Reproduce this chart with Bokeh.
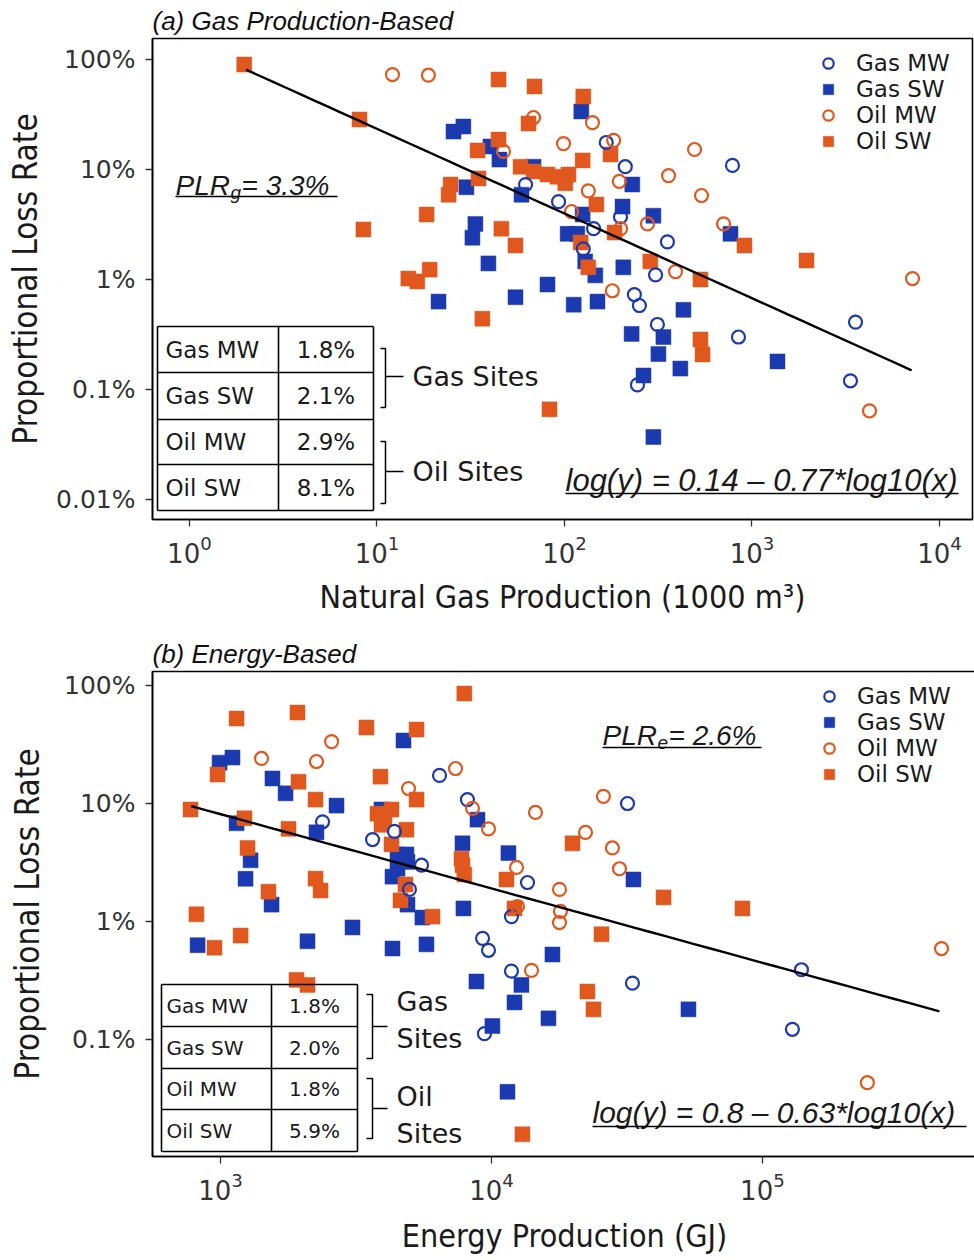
import numpy as np
from bokeh.plotting import figure
from bokeh.layouts import column
from bokeh.models import Range1d, FixedTicker, Legend, LegendItem, LogTickFormatter
from bokeh.core.properties import value
from bokeh.embed import file_html
from bokeh.resources import INLINE

BLUE = "#1c3ab0"
ORANGE = "#e1581e"

# ---------------- (a) gas-production basis: x = 1000 m3, y = % ----------------
a_gas_mw_x = [62, 93, 167, 211, 787, 199, 143, 354, 126, 306, 236, 251, 313, 3565, 847, 3351, 245]
a_gas_mw_y = [7.3, 5.1, 17.6, 10.6, 10.9, 3.7, 2.9, 2.2, 1.9, 1.1, 0.73, 0.58, 0.39, 0.41, 0.30, 0.12, 0.11]

a_gas_sw_x = [25.6, 28.9, 40.3, 45.0, 68.4, 30.0, 59.0, 33.5, 32.3, 39.3, 21.3, 54.8, 81.2, 123, 230,
              204, 125, 298, 768, 104, 117, 129, 146, 206, 112, 150, 431, 228, 337, 317, 1368, 415, 264, 298]
a_gas_sw_y = [22.1, 24.6, 16.2, 12.3, 10.6, 6.9, 5.9, 3.2, 2.4, 1.4, 0.63, 0.69, 0.90, 33.7, 7.3,
              4.6, 3.9, 3.8, 2.6, 2.6, 2.6, 1.46, 1.09, 1.29, 0.59, 0.63, 0.53, 0.32, 0.30, 0.21, 0.18, 0.155, 0.134, 0.037]

a_oil_mw_x = [12.1, 18.8, 68.4, 47.3, 141, 98.8, 183, 494, 196, 359, 134, 538, 109, 277, 705, 199, 391, 7180, 180, 4233]
a_oil_mw_y = [73, 72, 29.7, 14.6, 26.7, 17.2, 18.4, 15.2, 7.8, 8.8, 6.4, 5.8, 4.15, 3.2, 3.2, 2.9, 1.18, 1.02, 0.79, 0.064]

a_oil_sw_x = [1.96, 8.07, 44.5, 69.2, 64.3, 44.5, 34.4, 58.3, 68.4, 81.2, 91.8, 105, 101, 34.8, 24.7, 24.1, 18.4,
              8.47, 46.1, 54.8, 14.7, 16.4, 19.1, 36.5, 126, 176, 125, 148, 185, 912, 122, 134, 287, 1953, 531, 531, 545, 83.2]
a_oil_sw_y = [90, 28.5, 65.8, 56.9, 26.2, 18.7, 14.9, 10.6, 9.6, 9.0, 8.6, 9.0, 7.5, 8.3, 7.3, 5.9, 3.9,
              2.85, 2.9, 2.04, 1.02, 0.96, 1.23, 0.44, 46.1, 13.7, 12.1, 4.8, 2.67, 2.04, 2.17, 1.29, 1.46, 1.49, 1.0, 0.285, 0.208, 0.066]

a_fit_intercept = 0.14
a_fit_slope = -0.77
a_fit_x = [2.0, 7100]
a_plr = "3.3%"
a_table_vals = ["1.8%", "2.1%", "2.9%", "8.1%"]
a_x_ticks = [1, 10, 100, 1000, 10000]

# ---------------- (b) energy basis: x = GJ, y = % ----------------
b_gas_mw_x = [6430, 8150, 2380, 4385, 3640, 5520, 13580, 4980, 11850, 9270, 9750, 11850, 9420, 31770, 33130, 139300, 129000]
b_gas_mw_y = [17.3, 10.8, 7.0, 5.8, 4.95, 3.0, 2.14, 1.87, 1.10, 0.72, 0.57, 0.38, 0.112, 10.0, 0.30, 0.39, 0.122]

b_gas_sw_x = [4735, 992, 1107, 1555, 1738, 2680, 3927, 1146, 2260, 8880, 7816, 11550, 1291, 4500, 4855, 4898, 4500,
              4312, 1237, 1543, 4898, 7880, 5560, 3070, 823, 2094, 4312, 5755, 16790, 33420, 12900, 8800, 12160,
              16230, 10080, 11460, 53330]
b_gas_sw_y = [34.2, 22.2, 24.5, 16.3, 12.2, 9.6, 8.9, 6.8, 5.7, 7.3, 4.6, 3.8, 3.3, 3.7, 3.7, 3.2, 2.8,
              2.4, 2.3, 1.39, 1.39, 1.29, 1.08, 0.89, 0.63, 0.68, 0.59, 0.64, 0.525, 2.27, 0.29, 0.31, 0.206,
              0.151, 0.13, 0.036, 0.18]

b_oil_mw_x = [2570, 2260, 1417, 7365, 4940, 8510, 14530, 9750, 12370, 17820, 12470, 17970, 17820, 14050,
              25890, 22230, 27940, 29670, 458000, 243900]
b_oil_mw_y = [33.5, 22.7, 24.1, 19.8, 13.4, 9.1, 8.4, 6.1, 2.87, 1.87, 1.34, 1.22, 0.98, 0.385,
              11.5, 5.7, 4.2, 2.8, 0.59, 0.043]

b_oil_sw_x = [7940, 1146, 1923, 3456, 5290, 975, 3893, 1940, 2242, 5290, 775, 3797, 4275, 3927, 4030, 1226,
              1782, 4855, 4275, 1258, 7750, 7816, 7940, 2242, 2340, 11360, 4815, 1503, 4615, 12160, 815, 6060,
              1186, 950, 1908, 2094, 13010, 19910, 43150, 84370, 25470, 22600, 23790]
b_oil_sw_y = [85.6, 52.5, 59.0, 44.1, 42.4, 17.6, 16.9, 15.3, 10.8, 10.8, 8.9, 8.2, 8.9, 6.6, 7.5, 7.5,
              6.1, 6.0, 4.5, 4.2, 3.4, 3.0, 2.5, 2.31, 1.83, 2.27, 2.06, 1.79, 1.51, 1.29, 1.15, 1.10,
              0.76, 0.60, 0.32, 0.29, 0.0157, 4.6, 1.6, 1.29, 0.78, 0.255, 0.18]

b_fit_intercept = 0.8
b_fit_slope = -0.63
b_fit_x = [780, 450000]
b_plr = "2.6%"
b_table_vals = ["1.8%", "2.0%", "1.8%", "5.9%"]
b_x_ticks = [1000, 10000, 100000]

# ---------------- shared ----------------
series_names = ["Gas MW", "Gas SW", "Oil MW", "Oil SW"]
y_ticks = [0.01, 0.1, 1, 10, 100]
y_tick_labels = ["0.01%", "0.1%", "1%", "10%", "100%"]

SANS = "DejaVu Sans"
ITAL = "Liberation Sans"
COND = "DejaVu Sans Condensed"


def place(spec, fx, fy):
    """Offsets in px from the frame's top-left corner -> data coordinates."""
    x0, x1 = spec["xlog"]
    y0, y1 = spec["ylog"]
    xl = x0 + fx / spec["fw"] * (x1 - x0)
    yl = y1 - fy / spec["fh"] * (y1 - y0)
    return 10 ** xl, 10 ** yl


def text(p, spec, fx, fy, s, size, font=SANS, style="normal", align="left", color="#1a1a1a"):
    x, y = place(spec, fx, fy)
    p.text(x=[x], y=[y], text=[s], text_font=value(font), text_font_size=value(f"{size}px"),
           text_font_style=style, text_align=align, text_baseline="middle", text_color=color)


def hline(p, spec, fx0, fx1, fy, width=1.5):
    x0, y = place(spec, fx0, fy)
    x1, _ = place(spec, fx1, fy)
    p.line(x=[x0, x1], y=[y, y], line_color="black", line_width=width)


def path(p, spec, pts, width=1.5):
    xy = [place(spec, fx, fy) for fx, fy in pts]
    p.line(x=[a for a, _ in xy], y=[b for _, b in xy], line_color="black", line_width=width)


def make_panel(spec):
    p = figure(x_axis_type="log", y_axis_type="log",
               x_range=Range1d(10 ** spec["xlog"][0], 10 ** spec["xlog"][1]),
               y_range=Range1d(10 ** spec["ylog"][0], 10 ** spec["ylog"][1]),
               frame_width=spec["fw"], frame_height=spec["fh"],
               min_border_left=spec["left"], min_border_right=2,
               min_border_top=spec["top"], min_border_bottom=spec["bottom"],
               toolbar_location=None, output_backend="svg",
               background_fill_color="white", border_fill_color="white")
    p.title.text = spec["title"]
    p.title.text_font = ITAL
    p.title.text_font_style = "italic"
    p.title.text_font_size = "26px"
    p.title.text_color = "#111111"
    p.title.align = "left"
    p.title.standoff = 6

    p.outline_line_color = "black"
    p.outline_line_width = 1.6
    p.outline_line_alpha = 1.0
    p.grid.visible = False

    for ax in (p.xaxis, p.yaxis):
        ax.axis_line_color = "black"
        ax.axis_line_width = 1.6
        ax.major_tick_in = 0
        ax.major_tick_out = 7
        ax.major_tick_line_color = "#333333"
        ax.major_tick_line_width = 1.3
        ax.minor_tick_line_color = None
        ax.major_label_text_color = "#333333"
        ax.major_label_text_font = SANS
        ax.axis_label_text_font = COND
        ax.axis_label_text_font_style = "normal"
        ax.axis_label_text_color = "#1a1a1a"

    p.xaxis.ticker = FixedTicker(ticks=spec["xticks"])
    p.xaxis.formatter = LogTickFormatter()
    p.xaxis.major_label_text_font_size = "26px"
    p.xaxis.major_label_standoff = 8
    p.xaxis.axis_label = spec["xlabel"]
    p.xaxis.axis_label_text_font_size = "32px"
    p.xaxis.axis_label_standoff = spec["xlabel_standoff"]

    p.yaxis.ticker = FixedTicker(ticks=y_ticks)
    p.yaxis.major_label_overrides = dict(zip(y_ticks, y_tick_labels))
    p.yaxis.major_label_text_font_size = "25px"
    p.yaxis.major_label_standoff = 10
    p.yaxis.axis_label = "Proportional Loss Rate"
    p.yaxis.axis_label_text_font_size = "33px"
    p.yaxis.axis_label_standoff = spec["ylabel_standoff"]

    gx, gy, sx, sy, ox, oy, qx, qy = spec["data"]
    r_gsw = p.scatter(sx, sy, marker="square", size=15, fill_color=BLUE, line_color=BLUE, line_width=0.5)
    r_osw = p.scatter(qx, qy, marker="square", size=15, fill_color=ORANGE, line_color=ORANGE, line_width=0.5)
    r_gmw = p.scatter(gx, gy, marker="circle", size=13, fill_color=None, line_color=BLUE, line_width=2.2)
    r_omw = p.scatter(ox, oy, marker="circle", size=13, fill_color=None, line_color=ORANGE, line_width=2.2)

    # power-law fit: log10(y) = intercept + slope * log10(x), y as a fraction
    fx = np.logspace(np.log10(spec["fit_x"][0]), np.log10(spec["fit_x"][1]), 50)
    fy = 100 * 10 ** (spec["fit"][0] + spec["fit"][1] * np.log10(fx))
    p.line(fx, fy, line_color="black", line_width=2.4)

    legend = Legend(items=[LegendItem(label=n, renderers=[r]) for n, r in
                           zip(series_names, [r_gmw, r_gsw, r_omw, r_osw])],
                    location="top_right", margin=12, padding=6, spacing=0,
                    glyph_width=26, glyph_height=26, label_standoff=15, label_width=104,
                    label_text_font=SANS, label_text_font_size="23px", label_text_color="#1a1a1a",
                    background_fill_alpha=0, border_line_color=None)
    p.add_layout(legend)
    return p


spec_a = dict(title="(a) Gas Production-Based", xlog=(-0.197, 4.176), ylog=(-2.182, 2.191),
              fw=820, fh=481, left=152, top=37, bottom=112, xticks=a_x_ticks,
              xlabel="Natural Gas Production (1000 m\u00b3)", xlabel_standoff=12, ylabel_standoff=8,
              fit=(a_fit_intercept, a_fit_slope), fit_x=a_fit_x,
              data=(a_gas_mw_x, a_gas_mw_y, a_gas_sw_x, a_gas_sw_y, a_oil_mw_x, a_oil_mw_y, a_oil_sw_x, a_oil_sw_y))
spec_b = dict(title="(b) Energy-Based", xlog=(2.749, 5.790), ylog=(-1.992, 2.119),
              fw=824, fh=485, left=148, top=40, bottom=105, xticks=b_x_ticks,
              xlabel="Energy Production (GJ)", xlabel_standoff=14, ylabel_standoff=14,
              fit=(b_fit_intercept, b_fit_slope), fit_x=b_fit_x,
              data=(b_gas_mw_x, b_gas_mw_y, b_gas_sw_x, b_gas_sw_y, b_oil_mw_x, b_oil_mw_y, b_oil_sw_x, b_oil_sw_y))

pa = make_panel(spec_a)
pb = make_panel(spec_b)

# ---- (a) annotations ----
text(pa, spec_a, 23, 147, "PLR", 28, ITAL, "italic")
text(pa, spec_a, 78, 154, "g", 19, ITAL, "italic")
text(pa, spec_a, 89, 147, "= " + a_plr, 28, ITAL, "italic")
hline(pa, spec_a, 23, 185, 158)

eq_a = f"log(y) = {a_fit_intercept:g} \u2013 {abs(a_fit_slope):g}*log10(x)"
text(pa, spec_a, 413, 442, eq_a, 31, ITAL, "italic")
hline(pa, spec_a, 413, 806, 455)

# summary table
ta = dict(l=5, r=221, c=126, rows=[288, 334, 381, 426, 472])
for yy in ta["rows"]:
    hline(pa, spec_a, ta["l"], ta["r"], yy, 1.6)
for xx in (ta["l"], ta["c"], ta["r"]):
    path(pa, spec_a, [(xx, ta["rows"][0]), (xx, ta["rows"][-1])], 1.6)
for i, (n, v) in enumerate(zip(series_names, a_table_vals)):
    cy = (ta["rows"][i] + ta["rows"][i + 1]) / 2
    text(pa, spec_a, 13, cy, n, 23)
    text(pa, spec_a, (ta["c"] + ta["r"]) / 2, cy, v, 23, align="center")
path(pa, spec_a, [(228, 310), (233, 310), (233, 369), (228, 369)])
hline(pa, spec_a, 233, 251, 338)
text(pa, spec_a, 260, 338, "Gas Sites", 27)
path(pa, spec_a, [(228, 403), (233, 403), (233, 465), (228, 465)])
hline(pa, spec_a, 233, 251, 433)
text(pa, spec_a, 260, 433, "Oil Sites", 27)

# ---- (b) annotations ----
text(pb, spec_b, 450, 64, "PLR", 28, ITAL, "italic")
text(pb, spec_b, 505, 71, "e", 19, ITAL, "italic")
text(pb, spec_b, 516, 64, "= " + b_plr, 28, ITAL, "italic")
hline(pb, spec_b, 450, 609, 76)

eq_b = f"log(y) = {b_fit_intercept:g} \u2013 {abs(b_fit_slope):g}*log10(x)"
text(pb, spec_b, 440, 441, eq_b, 30, ITAL, "italic")
hline(pb, spec_b, 440, 814, 455)

tb = dict(l=9, r=205, c=119, rows=[313, 355, 397, 438, 480])
for yy in tb["rows"]:
    hline(pb, spec_b, tb["l"], tb["r"], yy, 1.6)
for xx in (tb["l"], tb["c"], tb["r"]):
    path(pb, spec_b, [(xx, tb["rows"][0]), (xx, tb["rows"][-1])], 1.6)
for i, (n, v) in enumerate(zip(series_names, b_table_vals)):
    cy = (tb["rows"][i] + tb["rows"][i + 1]) / 2
    text(pb, spec_b, 14, cy, n, 20)
    text(pb, spec_b, (tb["c"] + tb["r"]) / 2, cy, v, 20, align="center")
path(pb, spec_b, [(214, 323), (220, 323), (220, 387), (214, 387)])
hline(pb, spec_b, 220, 235, 355)
text(pb, spec_b, 244, 330, "Gas", 27)
text(pb, spec_b, 244, 367, "Sites", 27)
path(pb, spec_b, [(214, 407), (220, 407), (220, 467), (214, 467)])
hline(pb, spec_b, 220, 235, 437)
text(pb, spec_b, 244, 425, "Oil", 27)
text(pb, spec_b, 244, 462, "Sites", 27)

layout = column(pa, pb, spacing=0)
open("out.html", "w").write(file_html(layout, INLINE))
